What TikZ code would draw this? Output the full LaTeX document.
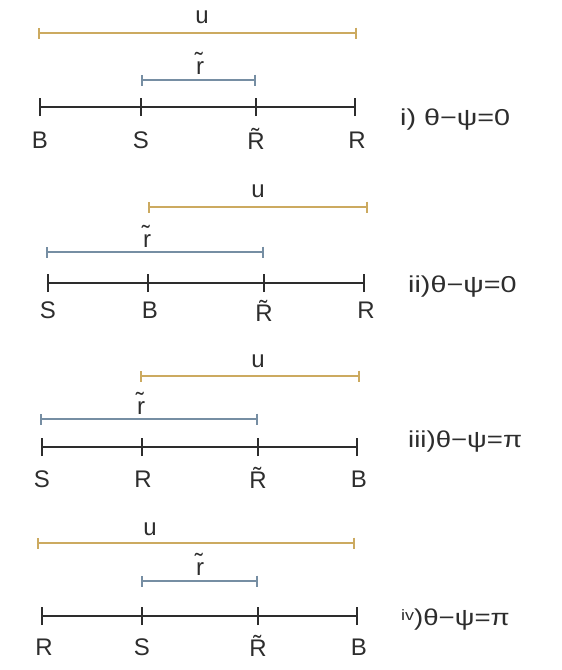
\documentclass[tikz,border=0pt]{standalone}
\usepackage{fontspec}
\setmainfont{Liberation Sans}
\usetikzlibrary{arrows.meta}

\definecolor{ucol}{RGB}{204,170,96}
\definecolor{rcol}{RGB}{118,142,163}
\definecolor{axcol}{RGB}{45,45,45}

\begin{document}
\begin{tikzpicture}[x=1pt, y=-1pt,
  axis/.style={draw=axcol, line width=2.2pt},
  tick/.style={draw=axcol, line width=1.8pt},
  ubar/.style={{Bar[width=11pt]}-{Bar[width=11pt]}, draw=ucol, line width=2pt},
  rbar/.style={{Bar[width=11pt]}-{Bar[width=11pt]}, draw=rcol, line width=2pt},
  pt/.style={font=\fontsize{24}{24}\selectfont, anchor=base, inner sep=0pt, text=axcol},
  case/.style={font=\fontsize{23}{23}\selectfont, anchor=base west, inner sep=0pt, text=axcol},
]
\useasboundingbox (0,0) rectangle (562,670);

% === i) theta-psi = 0 ===
\coordinate (a1) at (40,107);  \coordinate (a2) at (141,107);
\coordinate (a3) at (256,107); \coordinate (a4) at (355,107);
\draw[axis] (a1) -- (a4);
\foreach \t in {a1,a2,a3,a4} \draw[tick] ([yshift=-9pt]\t) -- ([yshift=9pt]\t);
\node[pt] (aB) at (40,148) {B};
\node[pt] (aS) at (141,148) {S};
\node[pt] (aRt) at (256,149) {R̃};
\node[pt] (aR) at (357,148) {R};
\coordinate (au1) at (38,33);  \coordinate (au2) at (357,33);
\draw[ubar] (au1) -- (au2);
\node[pt] (au) at (202,23) {u};
\coordinate (ar1) at (141,80); \coordinate (ar2) at (256,80);
\draw[rbar] (ar1) -- (ar2);
\node[pt] (ar) at (200,74) {r̃};
\node[case] (ca) at (400,125) {\scalebox{1.25}[1]{i) θ−ψ=0}};

% === ii) theta-psi = 0 ===
\coordinate (b1) at (48,283);  \coordinate (b2) at (148,283);
\coordinate (b3) at (264,283); \coordinate (b4) at (364,283);
\draw[axis] (b1) -- (b4);
\foreach \t in {b1,b2,b3,b4} \draw[tick] ([yshift=-9pt]\t) -- ([yshift=9pt]\t);
\node[pt] (bS) at (48,318) {S};
\node[pt] (bB) at (150,318) {B};
\node[pt] (bRt) at (264,321) {R̃};
\node[pt] (bR) at (366,318) {R};
\coordinate (bu1) at (148,207); \coordinate (bu2) at (368,207);
\draw[ubar] (bu1) -- (bu2);
\node[pt] (bu) at (258,197) {u};
\coordinate (br1) at (46,252); \coordinate (br2) at (264,252);
\draw[rbar] (br1) -- (br2);
\node[pt] (br) at (147,247) {r̃};
\node[case] (cb) at (408,292) {\scalebox{1.25}[1]{ii)θ−ψ=0}};

% === iii) theta-psi = pi ===
\coordinate (c1) at (42,447);  \coordinate (c2) at (142,447);
\coordinate (c3) at (258,447); \coordinate (c4) at (357,447);
\draw[axis] (c1) -- (c4);
\foreach \t in {c1,c2,c3,c4} \draw[tick] ([yshift=-9pt]\t) -- ([yshift=9pt]\t);
\node[pt] (cS) at (42,487) {S};
\node[pt] (cR) at (143,487) {R};
\node[pt] (cRt) at (258,488) {R̃};
\node[pt] (cB) at (359,487) {B};
\coordinate (cu1) at (140,376); \coordinate (cu2) at (360,376);
\draw[ubar] (cu1) -- (cu2);
\node[pt] (cu) at (258,367) {u};
\coordinate (cr1) at (40,419); \coordinate (cr2) at (258,419);
\draw[rbar] (cr1) -- (cr2);
\node[pt] (cr) at (141,414) {r̃};
\node[case] (cc) at (408,447) {\scalebox{1.2}[1]{iii)θ−ψ=π}};

% === iv) theta-psi = pi ===
\coordinate (d1) at (42,616);  \coordinate (d2) at (142,616);
\coordinate (d3) at (258,616); \coordinate (d4) at (357,616);
\draw[axis] (d1) -- (d4);
\foreach \t in {d1,d2,d3,d4} \draw[tick] ([yshift=-9pt]\t) -- ([yshift=9pt]\t);
\node[pt] (dR) at (44,655) {R};
\node[pt] (dS) at (142,655) {S};
\node[pt] (dRt) at (258,656) {R̃};
\node[pt] (dB) at (359,655) {B};
\coordinate (du1) at (37,543); \coordinate (du2) at (355,543);
\draw[ubar] (du1) -- (du2);
\node[pt] (du) at (150,535) {u};
\coordinate (dr1) at (141,581); \coordinate (dr2) at (258,581);
\draw[rbar] (dr1) -- (dr2);
\node[pt] (dr) at (200,575) {r̃};
\node[case] (cd) at (401,625) {\scalebox{1.2}[1]{\raisebox{5pt}{\fontsize{15}{15}\selectfont iv})θ−ψ=π}};

\end{tikzpicture}
\end{document}
